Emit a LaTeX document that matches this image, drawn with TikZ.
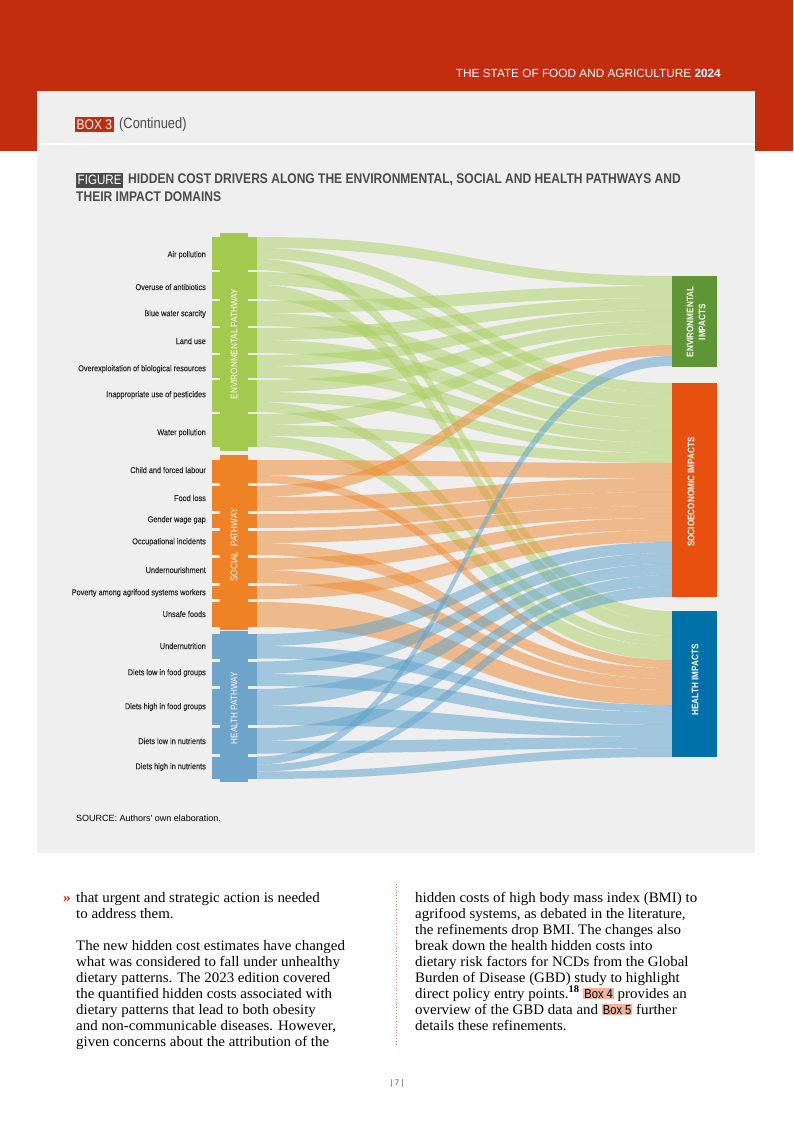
\documentclass[tikz,border=0pt]{standalone}
\usepackage{fontspec}
\setmainfont{Liberation Serif}[FakeStretch=1.03]
\newfontfamily\cond[FakeStretch=0.86]{Liberation Sans}
\newfontfamily\condm[FakeStretch=0.86,FakeBold=0.3]{Liberation Sans}
\newfontfamily\plainsans{Liberation Sans}
\definecolor{hdrred}{HTML}{C22D0E}
\definecolor{boxgrey}{HTML}{EFEFEF}
\definecolor{titlegrey}{HTML}{4A4A4A}
\definecolor{labelgrey}{HTML}{2A2A2A}
\definecolor{envbar}{HTML}{A3C94E}
\definecolor{socbar}{HTML}{F08226}
\definecolor{heabar}{HTML}{6EA3CA}
\definecolor{envflow}{HTML}{ADD165}
\definecolor{socflow}{HTML}{F08A30}
\definecolor{heaflow}{HTML}{5DA2CB}
\definecolor{envimp}{HTML}{5E9636}
\definecolor{socimp}{HTML}{E8500F}
\definecolor{heaimp}{HTML}{0071A8}
\definecolor{salmon}{HTML}{F0B49A}
\definecolor{dotc}{HTML}{C98A6E}
\newcommand\flw[5]{%
  \fill[#1, fill opacity=.52] (257,#2) .. controls (465,#2) and (465,#4) .. (672,#4)
    -- (672,#5) .. controls (465,#5) and (465,#3) .. (257,#3) -- cycle;}
\newcommand\seg[3]{\fill[#1] (212,#2) rectangle (257,#3);}
\newcommand\hlbox[1]{{\setlength\fboxsep{1pt}\colorbox{salmon}{\cond\fontsize{13}{13}\selectfont #1}}}
\tikzset{
  lbl/.style={anchor=east, inner sep=0, font=\condm\fontsize{8.5}{9}\selectfont, text=labelgrey},
  bartxt/.style={rotate=90, inner sep=0, text=white, font=\cond\fontsize{9.5}{10}\selectfont},
  boxtxt/.style={rotate=90, inner sep=0, text=white, align=center, font=\cond\bfseries\fontsize{9.5}{12}\selectfont},
  body/.style={anchor=base west, inner sep=0, font=\fontsize{14.5}{16}\selectfont, text=black},
}
\begin{document}
\begin{tikzpicture}[x=1pt,y=-1pt]
\useasboundingbox (0,0) rectangle (793,1121);
\fill[white] (0,0) rectangle (793,1121);
% header
\fill[hdrred] (0,0) rectangle (793,151);
\fill[boxgrey] (37,91) rectangle (755,853);
\draw[white, line width=1.5pt] (37,144) -- (755,144);
\node[anchor=base east, inner sep=0, text=white, font=\plainsans\fontsize{11.8}{12}\selectfont] (hdr) at (721,78) {THE STATE OF FOOD AND AGRICULTURE \textbf{2024}};
\node[anchor=west, fill=hdrred, inner sep=1.5pt, text=white, font=\cond\fontsize{14}{15}\selectfont, minimum height=15pt] (box3) at (75,124.5) {BOX 3};
\node[anchor=west, inner sep=0, text=titlegrey, font=\cond\fontsize{15}{16}\selectfont] (cont) at (119,124.5) {(Continued)};
% figure title
\node[anchor=west, fill=titlegrey, inner sep=1.5pt, text=white, font=\cond\fontsize{13.5}{14}\selectfont, minimum height=15pt] (figlab) at (76,180) {FIGURE};
\node[anchor=west, inner sep=0, text=titlegrey, font=\cond\bfseries\fontsize{14}{15}\selectfont] (title1) at (128,180) {HIDDEN COST DRIVERS ALONG THE ENVIRONMENTAL, SOCIAL AND HEALTH PATHWAYS AND};
\node[anchor=west, inner sep=0, text=titlegrey, font=\cond\bfseries\fontsize{14}{15}\selectfont] (title2) at (76,197) {THEIR IMPACT DOMAINS};
% ---------- flows: environmental pathway ----------
\flw{envflow}{237}{248}{276}{286}
\flw{envflow}{248}{259}{383}{393}
\flw{envflow}{259}{270}{611}{622}
\flw{envflow}{272}{285}{393}{406}
\flw{envflow}{285}{299}{622}{636}
\flw{envflow}{301}{313}{286}{298}
\flw{envflow}{313}{326}{406}{419}
\flw{envflow}{328}{340}{298}{310}
\flw{envflow}{340}{353}{419}{432}
\flw{envflow}{355}{366}{310}{321}
\flw{envflow}{366}{378}{432}{443}
\flw{envflow}{380}{392}{321}{333}
\flw{envflow}{392}{402}{443}{453}
\flw{envflow}{402}{412}{636}{646}
\flw{envflow}{414}{425}{333}{345}
\flw{envflow}{425}{436}{453}{463}
\flw{envflow}{436}{447}{646}{660}
% ---------- flows: social pathway ----------
\flw{socflow}{460}{475}{463}{478}
\flw{socflow}{475}{483}{660}{668}
\flw{socflow}{486}{497}{345}{356}
\flw{socflow}{497}{511}{478}{492}
\flw{socflow}{514}{528}{492}{506}
\flw{socflow}{531}{543}{506}{518}
\flw{socflow}{543}{555}{668}{679}
\flw{socflow}{558}{570}{518}{530}
\flw{socflow}{570}{583}{679}{690}
\flw{socflow}{586}{599}{530}{542}
\flw{socflow}{602}{627}{690}{705}
% ---------- flows: health pathway ----------
\flw{heaflow}{634}{646}{542}{553}
\flw{heaflow}{646}{658.5}{705}{712}
\flw{heaflow}{661.5}{674}{553}{564}
\flw{heaflow}{674}{686}{712}{725}
\flw{heaflow}{689}{706}{564}{575}
\flw{heaflow}{706}{725}{725}{737}
\flw{heaflow}{728}{741}{575}{586}
\flw{heaflow}{741}{753.5}{737}{748}
\flw{heaflow}{756.5}{764.5}{356}{366}
\flw{heaflow}{764.5}{771.5}{586}{597}
\flw{heaflow}{771.5}{779}{748}{757}
% ---------- pathway bars ----------
\fill[envbar] (220,233) rectangle (248,451);
\seg{envbar}{237}{270}\seg{envbar}{272}{299}\seg{envbar}{301}{326}\seg{envbar}{328}{353}
\seg{envbar}{355}{378}\seg{envbar}{380}{412}\seg{envbar}{414}{447}
\fill[socbar] (220,455) rectangle (248,630);
\seg{socbar}{460}{483}\seg{socbar}{486}{511}\seg{socbar}{514}{528}\seg{socbar}{531}{555}
\seg{socbar}{558}{583}\seg{socbar}{586}{599}\seg{socbar}{602}{627}
\fill[heabar] (220,631) rectangle (248,782);
\seg{heabar}{634}{658.5}\seg{heabar}{661.5}{686}\seg{heabar}{689}{725}\seg{heabar}{728}{753.5}\seg{heabar}{756.5}{779}
\node[bartxt] (envpath) at (234,344) {ENVIRONMENTAL PATHWAY};
\node[bartxt] (socpath) at (234,545) {SOCIAL\enspace PATHWAY};
\node[bartxt] (heapath) at (234,708) {HEALTH PATHWAY};
% ---------- impact boxes ----------
\fill[envimp] (672,276) rectangle (717,367);
\fill[socimp] (672,383) rectangle (717,597);
\fill[heaimp] (672,611) rectangle (717,757);
\node[boxtxt] (envimpt) at (696,322) {ENVIRONMENTAL\\IMPACTS};
\node[boxtxt] (socimpt) at (691,492) {SOCIOECONOMIC IMPACTS};
\node[boxtxt] (heaimpt) at (695,680) {HEALTH IMPACTS};
% ---------- labels ----------
\node[lbl] (l1) at (206,255) {Air pollution};
\node[lbl] (l2) at (206,287) {Overuse of antibiotics};
\node[lbl] (l3) at (206,314) {Blue water scarcity};
\node[lbl] (l4) at (206,341) {Land use};
\node[lbl] (l5) at (206,369) {Overexploitation of biological resources};
\node[lbl] (l6) at (206,395) {Inappropriate use of pesticides};
\node[lbl] (l7) at (206,433) {Water pollution};
\node[lbl] (l8) at (206,470) {Child and forced labour};
\node[lbl] (l9) at (206,498) {Food loss};
\node[lbl] (l10) at (206,520) {Gender wage gap};
\node[lbl] (l11) at (206,542) {Occupational incidents};
\node[lbl] (l12) at (206,570) {Undernourishment};
\node[lbl] (l13) at (206,593) {Poverty among agrifood systems workers};
\node[lbl] (l14) at (206,614) {Unsafe foods};
\node[lbl] (l15) at (206,646) {Undernutrition};
\node[lbl] (l16) at (206,673) {Diets low in food groups};
\node[lbl] (l17) at (206,707) {Diets high in food groups};
\node[lbl] (l18) at (206,741) {Diets low in nutrients};
\node[lbl] (l19) at (206,767) {Diets high in nutrients};
% source
\node[anchor=west, inner sep=0, text=black, font=\plainsans\fontsize{9}{10}\selectfont] (src) at (76,818) {SOURCE: Authors' own elaboration.};
% ---------- body text ----------
\node[anchor=base east, inner sep=0, text=hdrred, font=\bfseries\fontsize{15}{16}\selectfont] (raq) at (71,902) {»};
\node[body] (a1) at (76,902) {that urgent and strategic action is needed};
\node[body] (a2) at (76,918) {to address them.};
\node[body] (a3) at (76,950) {The new hidden cost estimates have changed};
\node[body] (a4) at (76,966) {what was considered to fall under unhealthy};
\node[body] (a5) at (76,982) {dietary patterns. The 2023 edition covered};
\node[body] (a6) at (76,998) {the quantified hidden costs associated with};
\node[body] (a7) at (76,1014) {dietary patterns that lead to both obesity};
\node[body] (a8) at (76,1030) {and non-communicable diseases. However,};
\node[body] (a9) at (76,1046) {given concerns about the attribution of the};
\draw[dotc, line width=0.8pt, dotted] (396,884) -- (396,1045);
\node[body] (b1) at (415,902) {hidden costs of high body mass index (BMI) to};
\node[body] (b2) at (415,918) {agrifood systems, as debated in the literature,};
\node[body] (b3) at (415,934) {the refinements drop BMI. The changes also};
\node[body] (b4) at (415,950) {break down the health hidden costs into};
\node[body] (b5) at (415,966) {dietary risk factors for NCDs from the Global};
\node[body] (b6) at (415,982) {Burden of Disease (GBD) study to highlight};
\node[body] (b7) at (415,998) {direct policy entry points.\textsuperscript{\bfseries 18} \hlbox{Box 4} provides an};
\node[body] (b8) at (415,1014) {overview of the GBD data and \hlbox{Box 5} further};
\node[body] (b9) at (415,1030) {details these refinements.};
\node[inner sep=0, text=titlegrey, font=\plainsans\fontsize{8}{9}\selectfont] (pg) at (397,1083) {| 7 |};
\end{tikzpicture}
\end{document}
